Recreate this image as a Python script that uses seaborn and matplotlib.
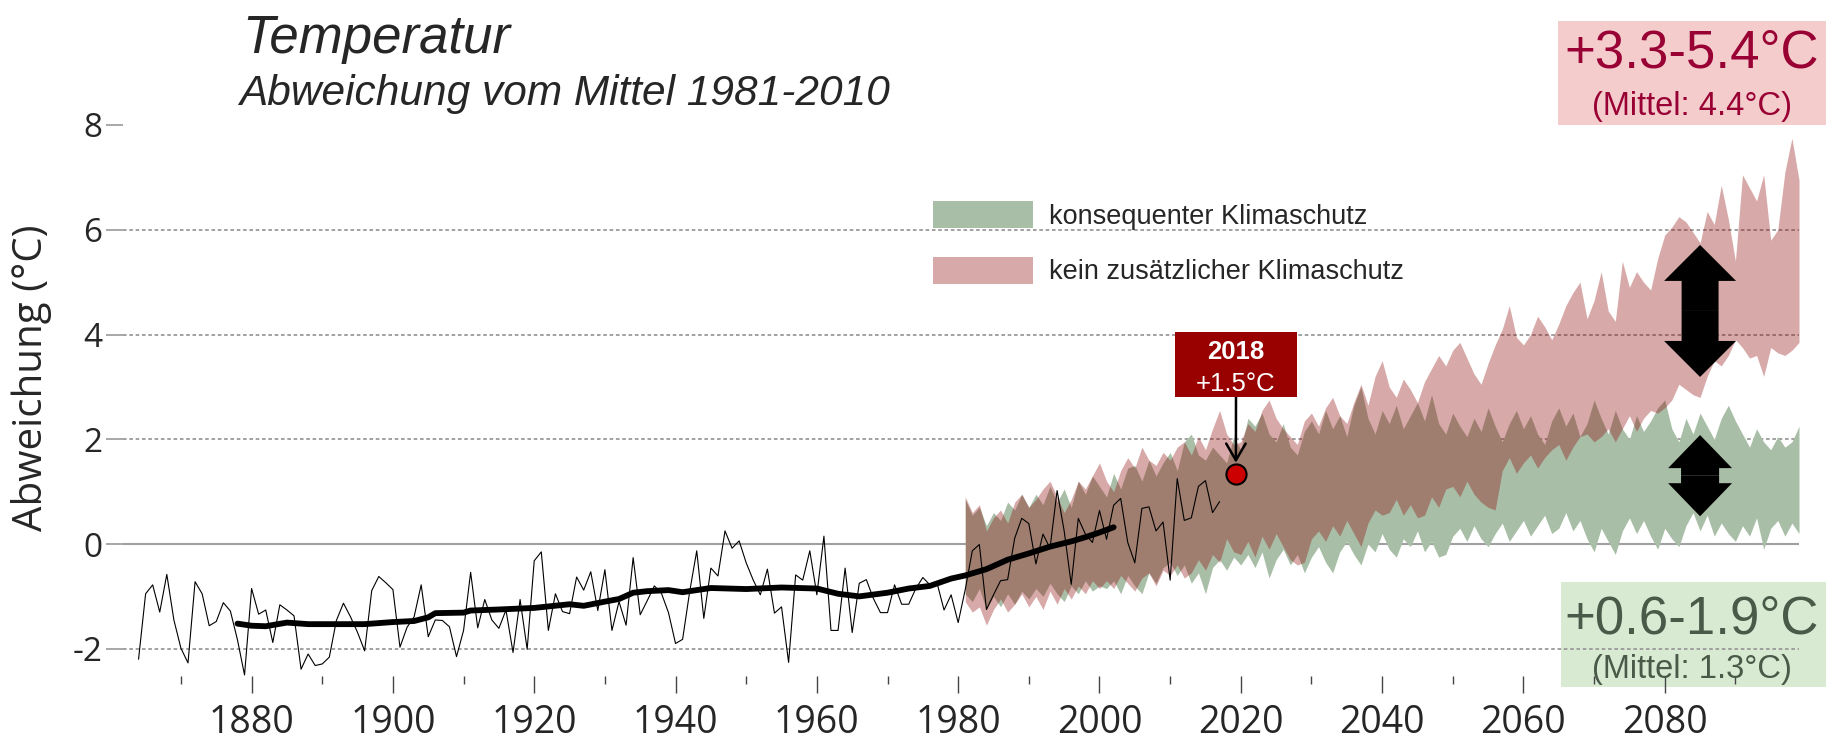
import matplotlib
matplotlib.use('Agg')
import matplotlib.pyplot as plt
import seaborn as sns
from matplotlib.patches import Rectangle, FancyArrowPatch, ArrowStyle

# observed yearly deviation (deg C vs 1981-2010), 1864-2017
obs_years = list(range(1864, 2018))
obs_values = [
    -2.20, -0.95, -0.78, -1.30, -0.58, -1.45, -1.99, -2.27, -0.72, -0.95,
    -1.56, -1.48, -1.12, -1.28, -1.83, -2.50, -0.85, -1.34, -1.26, -1.88,
    -1.16, -1.26, -1.37, -2.39, -2.10, -2.32, -2.29, -2.16, -1.46, -1.13,
    -1.39, -1.69, -2.04, -0.89, -0.62, -0.74, -0.87, -1.97, -1.59, -1.39,
    -0.78, -1.77, -1.45, -1.46, -1.58, -2.15, -1.65, -0.54, -1.60, -1.06,
    -1.45, -1.61, -1.26, -2.07, -1.06, -2.01, -0.32, -0.15, -1.65, -0.95,
    -1.29, -1.33, -0.63, -0.88, -0.53, -1.27, -0.49, -1.65, -1.10, -1.55,
    -0.26, -1.35, -1.08, -0.80, -0.94, -1.31, -1.90, -1.82, -0.91, -0.13,
    -1.42, -0.46, -0.61, 0.25, -0.08, 0.06, -0.36, -0.69, -0.97, -0.48,
    -1.32, -1.20, -2.26, -0.59, -0.69, -0.13, -0.97, 0.15, -1.65, -1.65,
    -0.46, -1.69, -0.75, -0.68, -1.04, -1.31, -1.31, -0.78, -1.15, -1.15,
    -0.85, -0.64, -0.78, -0.74, -1.26, -0.97, -1.50, -0.87, -0.13, -0.01,
    -1.25, -0.97, -0.70, -0.68, 0.11, 0.49, 0.39, -0.38, 0.19, -0.08,
    1.02, 0.25, -0.77, 0.49, 0.19, 0.03, 0.64, 0.09, 0.74, 0.87,
    0.03, -0.36, 0.68, 0.71, 0.25, 0.42, -0.69, 1.25, 0.45, 0.50,
    1.10, 1.21, 0.60, 0.81,
]

# 30-year running mean
mean_years = [1878, 1880, 1882, 1885, 1888, 1892, 1896, 1900, 1903, 1905,
              1906, 1910, 1911, 1915, 1920, 1925, 1927, 1930, 1932, 1934,
              1936, 1939, 1941, 1945, 1950, 1955, 1960, 1963, 1966, 1970,
              1973, 1976, 1979, 1981, 1984, 1987, 1990, 1993, 1996, 1998,
              2000, 2002]
mean_values = [-1.52, -1.56, -1.57, -1.50, -1.53, -1.53, -1.53, -1.49, -1.47, -1.40,
               -1.32, -1.31, -1.27, -1.25, -1.22, -1.15, -1.18, -1.10, -1.05, -0.93,
               -0.90, -0.88, -0.92, -0.84, -0.86, -0.83, -0.85, -0.95, -1.00, -0.93,
               -0.85, -0.80, -0.66, -0.60, -0.48, -0.30, -0.18, -0.05, 0.05, 0.13,
               0.22, 0.32]

# scenario ranges 1981-2099
proj_years = list(range(1981, 2100))
green_hi = [
    0.85, 0.55, 0.70, 0.35, 0.60, 0.45, 0.80, 0.65, 0.95, 0.70,
    0.95, 0.75, 1.10, 0.80, 1.05, 0.70, 1.20, 0.95, 1.30, 1.10,
    0.90, 1.35, 1.05, 1.45, 1.50, 1.20, 1.60, 1.30, 1.55, 1.75,
    1.40, 1.95, 2.10, 1.70, 1.60, 1.85, 1.70, 1.55, 2.05, 1.80,
    2.40, 2.25, 2.50, 2.10, 1.95, 2.30, 1.85, 1.70, 2.15, 2.35,
    2.10, 2.55, 2.20, 2.45, 2.05, 2.65, 3.00, 2.40, 2.10, 2.55,
    2.30, 2.65, 2.20, 2.45, 2.70, 2.35, 2.85, 2.30, 2.10, 2.50,
    2.25, 2.05, 2.40, 2.15, 2.60, 2.25, 1.95, 2.30, 2.55, 2.20,
    2.45, 2.10, 1.90, 2.35, 2.60, 2.25, 2.50, 2.05, 2.30, 2.75,
    2.40, 2.10, 2.55, 2.20, 2.00, 2.45, 2.15, 2.35, 2.60, 2.75,
    2.20, 1.95, 2.40, 2.10, 2.50, 2.25, 2.00, 2.40, 2.65, 2.35,
    2.10, 1.85, 2.20, 1.95, 1.80, 2.05, 1.85, 1.95, 2.25,
]
green_lo = [
    -0.95, -1.10, -0.85, -1.25, -1.00, -1.20, -0.95, -1.15, -0.90, -1.05,
    -0.85, -1.00, -0.75, -0.95, -1.10, -0.80, -0.95, -0.70, -0.90, -0.80,
    -0.85, -0.70, -0.95, -0.60, -0.80, -0.95, -0.55, -0.75, -0.45, -0.35,
    -0.60, -0.40, -0.75, -0.55, -0.95, -0.45, -0.30, -0.50, -0.25, -0.40,
    -0.20, -0.45, -0.15, -0.65, -0.30, -0.10, -0.40, -0.20, -0.55, -0.25,
    -0.05, -0.35, -0.55, -0.15, 0.05, -0.20, -0.40, 0.00, -0.15, 0.20,
    -0.10, -0.25, 0.10, -0.05, 0.25, -0.15, 0.05, -0.25, -0.20, 0.15,
    0.30, 0.05, 0.35, 0.10, -0.05, 0.20, 0.40, 0.05, 0.25, 0.45,
    0.15, 0.35, 0.55, 0.20, 0.30, 0.60, 0.25, 0.45, 0.10, -0.15,
    0.30, 0.05, -0.20, 0.25, 0.50, 0.20, 0.45, 0.15, -0.10, 0.30,
    0.10, -0.05, 0.35, 0.60, 0.25, 0.55, 0.15, 0.40, 0.20, 0.05,
    0.35, 0.15, 0.50, -0.10, 0.30, 0.45, 0.15, 0.40, 0.20,
]
red_hi = [
    0.90, 0.60, 0.75, 0.25, 0.50, 0.65, 0.40, 0.80, 0.95, 0.70,
    0.85, 1.05, 1.20, 0.90, 0.60, 0.85, 1.20, 1.05, 1.30, 1.55,
    1.20, 1.00, 1.40, 1.65, 1.45, 1.85, 1.60, 1.50, 1.75, 1.60,
    1.85, 1.95, 1.70, 2.05, 1.80, 2.20, 2.55, 2.10, 1.90, 1.95,
    2.30, 2.15, 2.55, 2.75, 2.40, 2.20, 2.05, 1.90, 2.35, 2.50,
    2.25, 2.60, 2.80, 2.45, 2.30, 2.70, 3.05, 2.65, 3.20, 3.50,
    3.00, 2.80, 3.15, 2.95, 2.70, 3.10, 3.35, 3.60, 3.40, 3.70,
    3.85, 3.55, 3.25, 3.05, 3.45, 3.80, 4.10, 4.55, 3.95, 3.80,
    4.00, 4.35, 4.15, 3.90, 4.20, 4.55, 4.80, 5.00, 4.30, 4.65,
    5.20, 4.45, 4.25, 5.40, 4.90, 5.20, 5.00, 4.85, 5.45, 5.90,
    6.05, 6.25, 6.15, 5.95, 5.75, 6.35, 6.10, 6.85, 6.20, 5.40,
    7.05, 6.80, 6.55, 7.05, 5.80, 6.00, 7.10, 7.75, 6.95,
]
red_lo = [
    -1.10, -1.30, -1.20, -1.55, -1.25, -1.05, -1.30, -1.15, -0.95, -1.20,
    -1.00, -1.25, -0.90, -1.15, -0.85, -1.05, -0.80, -0.95, -0.70, -0.85,
    -0.70, -0.85, -0.60, -0.75, -0.90, -0.65, -0.55, -0.80, -0.50, -0.60,
    -0.40, -0.65, -0.55, -0.30, -0.50, -0.20, -0.35, 0.10, -0.15, -0.20,
    0.05, -0.25, 0.15, -0.10, 0.20, -0.05, -0.30, -0.40, -0.35, 0.10,
    0.25, 0.05, 0.35, 0.15, 0.45, 0.20, -0.05, 0.40, 0.65, 0.55,
    0.60, 0.85, 0.55, 0.75, 0.50, 0.55, 0.90, 0.70, 1.05, 1.10,
    0.90, 1.20, 0.95, 0.80, 0.70, 0.65, 1.40, 1.65, 1.35, 1.55,
    1.70, 1.45, 1.65, 1.80, 1.90, 1.60, 1.85, 2.05, 2.10, 1.95,
    2.05, 2.20, 1.95, 2.20, 2.45, 2.15, 2.40, 2.55, 2.50, 2.60,
    2.75, 3.05, 2.95, 2.85, 2.80, 3.20, 3.50, 3.40, 3.60, 3.90,
    3.75, 3.55, 3.60, 3.20, 3.75, 3.65, 3.60, 3.70, 3.85,
]

legend_labels = ['konsequenter Klimaschutz', 'kein zusätzlicher Klimaschutz']
x_ticks = list(range(1880, 2100, 20))

# 2018 marker and range arrows for 2085
marker_year = 2019.3
marker_value = 1.34
arrow_year = 2085
green_arrow = (0.53, 2.08)
red_arrow = (3.19, 5.71)

GREEN = '#A9BEA7'
RED = (141 / 255, 9 / 255, 9 / 255)

sns.set_theme(style='white')
plt.rcParams['font.family'] = ['Liberation Sans', 'DejaVu Sans']

W, H = 1826, 739
fig = plt.figure(figsize=(W / 100, H / 100), dpi=100)
ax = fig.add_axes([123 / W, 1 - 676 / H, (1799 - 123) / W, (676 - 125) / H])
ax.set_facecolor('none')

def fx(px):
    return px / W

def fy(px):
    return 1 - px / H

# reference lines
for v in [-2, 2, 4, 6]:
    ax.axhline(v, color='#9a9a9a', lw=1.3, ls=(0, (2, 1.5)), zorder=0)
ax.axhline(0, color='#a0a0a0', lw=1.5, zorder=0)

# scenario bands
ax.fill_between(proj_years, green_lo, green_hi, color=GREEN, lw=0, zorder=1,
                label=legend_labels[0])
ax.fill_between(proj_years, red_lo, red_hi, color=RED, alpha=0.35, lw=0, zorder=2,
                label=legend_labels[1])

# observations
sns.lineplot(x=obs_years, y=obs_values, ax=ax, color='black', lw=0.8, zorder=3)
sns.lineplot(x=mean_years, y=mean_values, ax=ax, color='black', lw=4.2, zorder=4)

ax.set_xlim(1861.8, 2099)
ax.set_ylim(-2.52, 8.0)
sns.despine(ax=ax, left=True, bottom=True)

ax.set_yticks([-2, 0, 2, 4, 6, 8])
ax.set_yticklabels(['-2', '0', '2', '4', '6', '8'])
ax.set_xticks(x_ticks)
ax.set_xticklabels([str(y) for y in x_ticks])
ax.set_xticks(list(range(1870, 2100, 20)), minor=True)
ax.tick_params(axis='y', length=12, width=1.2, color='#999999', pad=3, labelsize=24, left=True)
ax.tick_params(axis='x', which='major', length=12, width=1, color='#444444', pad=8.5,
               labelsize=27, bottom=True)
ax.tick_params(axis='x', which='minor', length=6, width=1, color='#444444', bottom=True)
for lab in ax.get_yticklabels() + ax.get_xticklabels():
    lab.set_fontfamily(['Open Sans', 'DejaVu Sans'])

ax.set_xlabel('')
ax.set_ylabel('Abweichung (°C)', fontsize=29, family=['Open Sans', 'DejaVu Sans'])
ax.yaxis.set_label_coords((52 - 123) / (1799 - 123), (676 - 378) / (676 - 125))

# legend
ax.legend(loc='upper left', bbox_to_anchor=(fx(933), fy(201)), bbox_transform=fig.transFigure,
          frameon=False, fontsize=19.5, handlelength=3.7, handleheight=1.15,
          handletextpad=0.6, labelspacing=1.0, borderpad=0, borderaxespad=0)

# titles
fig.text(fx(242), fy(53), 'Temperatur', fontsize=38, style='italic', va='baseline')
fig.text(fx(239), fy(105), 'Abweichung vom Mittel 1981-2010', fontsize=30.5,
         style='italic', va='baseline')

# range boxes on the right
fig.patches.append(Rectangle((fx(1558), fy(125)), fx(1826 - 1558), (125 - 21) / H,
                             transform=fig.transFigure, fc='#F4CCCC', ec='none', zorder=-1))
fig.patches.append(Rectangle((fx(1561), fy(687)), fx(1826 - 1561), (687 - 582) / H,
                             transform=fig.transFigure, fc='#D9EAD3', ec='none', zorder=-1))
fig.text(fx(1692), fy(68), '+3.3-5.4°C', fontsize=38, color='#990033', ha='center', va='baseline')
fig.text(fx(1692), fy(115), '(Mittel: 4.4°C)', fontsize=23.5, color='#990033', ha='center', va='baseline')
fig.text(fx(1692), fy(633), '+0.6-1.9°C', fontsize=38, color='#4A5A48', ha='center', va='baseline')
fig.text(fx(1692), fy(678), '(Mittel: 1.3°C)', fontsize=23.5, color='#4A5A48', ha='center', va='baseline')

# 2018 label
fig.patches.append(Rectangle((fx(1175), fy(397)), fx(122), 65 / H,
                             transform=fig.transFigure, fc='#990000', ec='none', zorder=5))
fig.text(fx(1236), fy(359), '2018', fontsize=18.5, weight='bold', color='white',
         ha='center', va='baseline', zorder=6)
fig.text(fx(1236), fy(391), '+1.5°C', fontsize=18.5, color='white',
         ha='center', va='baseline', zorder=6)
ax.annotate('', xy=(marker_year, marker_value), xycoords='data',
            xytext=(fx(1236), fy(397)), textcoords='figure fraction',
            arrowprops=dict(arrowstyle='->,head_length=0.6,head_width=0.35', lw=1.8,
                            color='black', shrinkA=0, shrinkB=8, mutation_scale=20),
            zorder=6)
ax.scatter([marker_year], [marker_value], s=210, color='#CC0000', edgecolor='black',
           linewidth=1.5, zorder=7)

# double arrows for the 2085 ranges
def double_arrow(lo, hi, head_l, head_w, tail_w):
    mid = (lo + hi) / 2
    style = ArrowStyle.Simple(head_length=head_l, head_width=head_w, tail_width=tail_w)
    for end in (lo, hi):
        ax.add_patch(FancyArrowPatch((arrow_year, mid), (arrow_year, end), arrowstyle=style,
                                     mutation_scale=1, color='black', lw=0,
                                     shrinkA=0, shrinkB=0, zorder=6))

double_arrow(*red_arrow, 25.9, 51.8, 26.6)
double_arrow(*green_arrow, 23.8, 46.0, 27.4)

fig.savefig('out.png', dpi=100)
